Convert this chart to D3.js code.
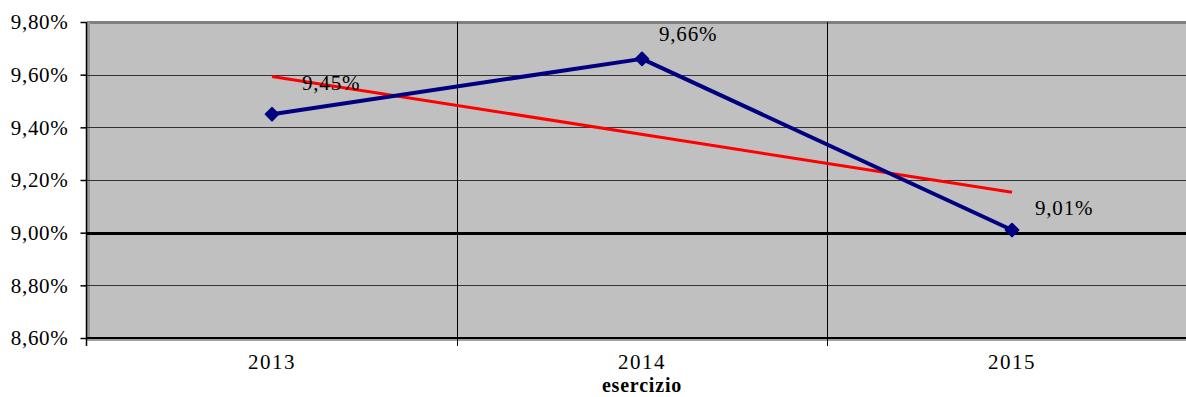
<!DOCTYPE html>
<html><head><meta charset="utf-8">
<script src="https://cdn.jsdelivr.net/npm/d3@7"></script>
<style>
html,body{margin:0;padding:0;background:#fff;}
svg{display:block;}
text{font-family:"Liberation Serif","Times New Roman",serif;fill:#000;}
</style></head>
<body>
<svg id="c" width="1186" height="397"></svg>
<script>
const categories = ["2013", "2014", "2015"];
const values = [9.45, 9.66, 9.01];
const valueLabels = ["9,45%", "9,66%", "9,01%"];
const yTicks = [8.6, 8.8, 9.0, 9.2, 9.4, 9.6, 9.8];
const yTickLabels = ["8,60%", "8,80%", "9,00%", "9,20%", "9,40%", "9,60%", "9,80%"];
const axisTitle = "esercizio";
// label placement nudges (layout only)
const labelNudge = [[30, -24], [17, -18], [23, -15]];

(function () {
const svg = d3.select("#c");
const pL = 87, pT = 22, pB = 338, band = 370;
const x = d3.scaleBand().domain(categories).range([pL, pL + band * categories.length]).padding(0);
const y = d3.scaleLinear().domain([8.6, 9.8]).range([pB, pT]);
const cx = d => x(d) + x.bandwidth() / 2;

// plot background
svg.append("rect").attr("x", pL).attr("y", pT).attr("width", x.range()[1] - pL).attr("height", pB - pT).attr("fill", "#C0C0C0");
// shaded border top and left
svg.append("rect").attr("x", pL).attr("y", pT - 1).attr("width", x.range()[1] - pL).attr("height", 3).attr("fill", "#808080");
svg.append("rect").attr("x", pL).attr("y", pT).attr("width", 3).attr("height", pB - pT).attr("fill", "#9a9a9a");
svg.append("rect").attr("x", pL).attr("y", pB + 1).attr("width", x.range()[1] - pL).attr("height", 2).attr("fill", "#a0a0a0");

// horizontal gridlines
yTicks.filter(t => t > 8.6 && t < 9.8).forEach(t => {
  const isZero = Math.abs(t - 9.0) < 1e-9;
  svg.append("line").attr("x1", pL).attr("x2", 1186)
    .attr("y1", Math.round(y(t)) + 0.5).attr("y2", Math.round(y(t)) + 0.5)
    .attr("stroke", isZero ? "#000" : "#333")
    .attr("stroke-width", isZero ? 3 : 1);
});
// vertical gridlines at category boundaries
categories.slice(1).forEach(c => {
  svg.append("line").attr("x1", x(c) + 0.5).attr("x2", x(c) + 0.5).attr("y1", pT).attr("y2", pB + 8)
    .attr("stroke", "#000").attr("stroke-width", 1);
});

// y axis
const yAxis = d3.axisLeft(y).tickValues(yTicks).tickFormat((d, i) => yTickLabels[i]).tickSize(6).tickPadding(12);
const gy = svg.append("g").attr("transform", `translate(${pL - 0.5},0)`).call(yAxis);
gy.select(".domain").attr("stroke", "#000").attr("stroke-width", 1.5).attr("d", `M0,${pT}V${pB + 8}`);
gy.selectAll(".tick line").attr("stroke", "#000").attr("stroke-width", 1.5);
gy.selectAll(".tick text").attr("font-size", 21).attr("font-family", "Liberation Serif").attr("letter-spacing", 0.7).attr("fill", "#000");

// x axis
svg.append("line").attr("x1", pL).attr("x2", 1186).attr("y1", pB).attr("y2", pB).attr("stroke", "#000").attr("stroke-width", 2);
svg.selectAll(".xlab").data(categories).enter().append("text")
  .attr("x", d => cx(d)).attr("y", 369).attr("text-anchor", "middle")
  .attr("font-size", 21).attr("letter-spacing", 1.5).text(d => d);
svg.append("text").attr("x", cx(categories[1])).attr("y", 392).attr("text-anchor", "middle")
  .attr("font-size", 20).attr("font-weight", "bold").attr("letter-spacing", 0.8).text(axisTitle);

// linear trendline (least squares on series)
const n = values.length;
const xs = d3.range(n);
const mx = d3.mean(xs), my = d3.mean(values);
const slope = d3.sum(xs, i => (i - mx) * (values[i] - my)) / d3.sum(xs, i => (i - mx) ** 2);
const icpt = my - slope * mx;
svg.append("line")
  .attr("x1", cx(categories[0])).attr("y1", y(icpt))
  .attr("x2", cx(categories[n - 1])).attr("y2", y(icpt + slope * (n - 1)))
  .attr("stroke", "#FF0000").attr("stroke-width", 3);

// series line
const line = d3.line().x((d, i) => cx(categories[i])).y(d => y(d));
svg.append("path").datum(values).attr("d", line).attr("fill", "none")
  .attr("stroke", "#000080").attr("stroke-width", 4).attr("stroke-linejoin", "round");
svg.selectAll(".mk").data(values).enter().append("path")
  .attr("transform", (d, i) => `translate(${cx(categories[i])},${y(d)}) rotate(45)`)
  .attr("d", d3.symbol().type(d3.symbolSquare).size(80))
  .attr("fill", "#000080").attr("stroke", "#000080").attr("stroke-width", 2).attr("stroke-linejoin", "round");

// data labels
svg.selectAll(".dl").data(values).enter().append("text")
  .attr("x", (d, i) => cx(categories[i]) + labelNudge[i][0])
  .attr("y", (d, i) => y(d) + labelNudge[i][1])
  .attr("font-size", 21).attr("letter-spacing", 0.8).text((d, i) => valueLabels[i]);
})();
</script>
</body></html>
